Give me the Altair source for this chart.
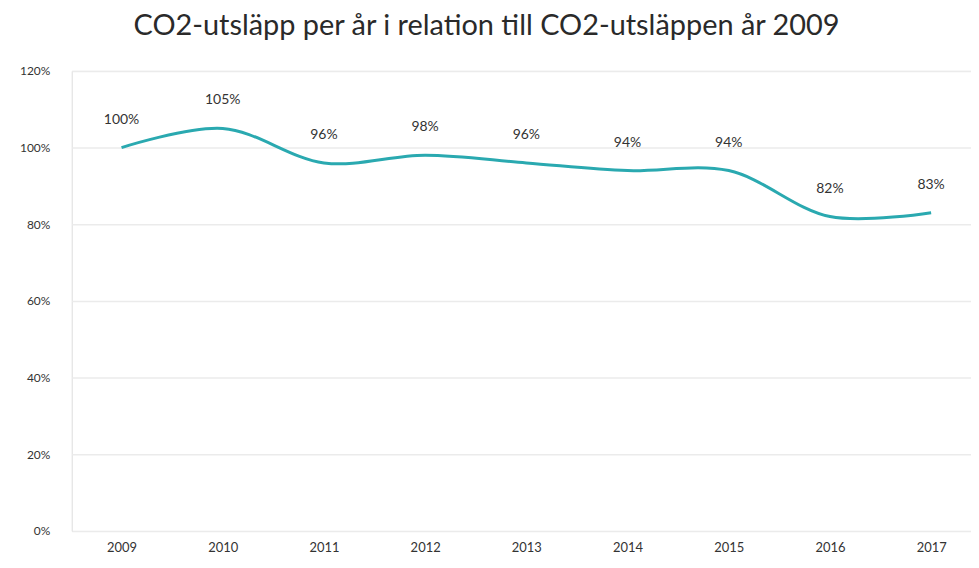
import altair as alt
import pandas as pd

years = [2009, 2010, 2011, 2012, 2013, 2014, 2015, 2016, 2017]
values = [1.00, 1.05, 0.96, 0.98, 0.96, 0.94, 0.94, 0.82, 0.83]
labels = ["100%", "105%", "96%", "98%", "96%", "94%", "94%", "82%", "83%"]

df = pd.DataFrame({"year": years, "value": values, "label": labels})

FONT = "Lato"
TEAL = "#2aa9b0"

xscale = alt.Scale(domain=[2008.508, 2017.394], nice=False, zero=False)
x = alt.X("year:Q", title=None, scale=xscale,
          axis=alt.Axis(values=years, format="d", grid=False, labelAngle=0, domain=False,
                        ticks=False, labelPadding=11, labelFontSize=13, labelColor="#333333",
                        labelFont=FONT))
y = alt.Y("value:Q", title=None, scale=alt.Scale(domain=[0, 1.2], nice=False),
          axis=alt.Axis(format=".0%", values=[0, 0.2, 0.4, 0.6, 0.8, 1.0, 1.2], domain=False,
                        ticks=False, labelPadding=22, labelFontSize=12, labelColor="#333333",
                        labelFont=FONT, gridColor="#ebebeb", gridWidth=1.5))

line = alt.Chart(df).mark_line(color=TEAL, strokeWidth=3, interpolate="catmull-rom").encode(x=x, y=y)
text = alt.Chart(df).mark_text(dy=-28, fontSize=14, font=FONT, color="#333333").encode(
    x=alt.X("year:Q", scale=xscale), y="value:Q", text="label:N")

chart = (line + text).properties(
    width=903, height=462,
    title=alt.TitleParams("CO2-utsläpp per år i relation till CO2-utsläppen år 2009",
                          fontSize=29, font=FONT, fontWeight="normal", color="#2a2a2a",
                          anchor="middle", dx=-35, offset=24),
    autosize=alt.AutoSizeParams(type="none"),
    padding={"left": 64, "top": 62, "right": 0, "bottom": 28},
).configure_view(stroke=None).configure(background="white")

chart.save("out.html", embed_options={"renderer": "svg", "actions": False})
